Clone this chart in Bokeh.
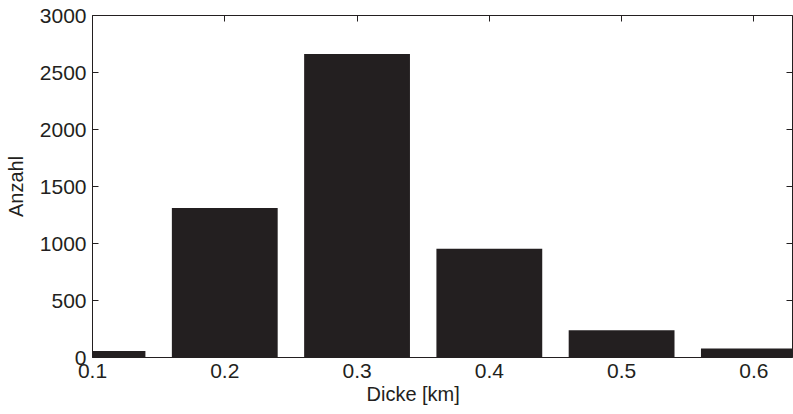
from bokeh.plotting import figure
from bokeh.models import LinearAxis, FixedTicker, Range1d, ColumnDataSource, Title
from bokeh.embed import file_html
from bokeh.resources import INLINE

# Data
dicke = [0.1, 0.2, 0.3, 0.4, 0.5, 0.6]
anzahl = [58, 1312, 2663, 955, 240, 78]
x_ticks = [0.1, 0.2, 0.3, 0.4, 0.5, 0.6]
y_ticks = [0, 500, 1000, 1500, 2000, 2500, 3000]
x_title = "Dicke [km]"
y_title = "Anzahl"

FONT = "Liberation Sans"
DARK = "#231f20"

src = ColumnDataSource(dict(x=dicke, top=anzahl))

p = figure(width=793, height=414, output_backend="svg", toolbar_location=None,
           x_range=Range1d(0.1, 0.6292), y_range=Range1d(0, 3000),
           min_border_left=92, min_border_top=15, min_border_bottom=57,
           min_border_right=1)
p.outline_line_color = None
p.grid.visible = False
p.background_fill_color = "white"

p.vbar(x="x", top="top", width=0.08, source=src, fill_color=DARK, line_color=None)

def style(ax, labels=True):
    ax.axis_line_color = DARK
    ax.axis_line_width = 1
    ax.major_tick_in = 6
    ax.major_tick_out = 0
    ax.minor_tick_in = 0
    ax.minor_tick_out = 0
    ax.major_tick_line_color = DARK
    if labels:
        ax.major_label_text_font = FONT
        ax.major_label_text_font_size = "21px"
        ax.major_label_text_color = DARK
        ax.axis_label_text_font = FONT
        ax.axis_label_text_font_size = "20px"
        ax.axis_label_text_font_style = "normal"
        ax.axis_label_text_color = DARK
    else:
        ax.major_label_text_font_size = "1px"
        ax.major_label_text_alpha = 0
        ax.major_label_standoff = 0

xa = p.xaxis[0]
xa.ticker = FixedTicker(ticks=x_ticks)
style(xa)
xa.major_label_standoff = 6

ya = p.yaxis[0]
ya.ticker = FixedTicker(ticks=y_ticks)
ya.axis_label = y_title
style(ya)
ya.major_label_standoff = 6
ya.axis_label_standoff = 10

top_ax = LinearAxis(ticker=FixedTicker(ticks=x_ticks))
style(top_ax, labels=False)
top_ax.major_label_overrides = {t: "" for t in x_ticks}
p.add_layout(top_ax, "above")

right_ax = LinearAxis(ticker=FixedTicker(ticks=y_ticks))
style(right_ax, labels=False)
right_ax.major_label_overrides = {t: "" for t in y_ticks}
p.add_layout(right_ax, "right")

# x-axis title, placed where the reference puts it (left of the frame centre)
p.add_layout(Title(text=x_title, align="left", offset=274, standoff=0,
                   text_font=FONT, text_font_size="20px", text_font_style="normal",
                   text_color=DARK), "below")

open("out.html", "w").write(file_html(p, INLINE))
